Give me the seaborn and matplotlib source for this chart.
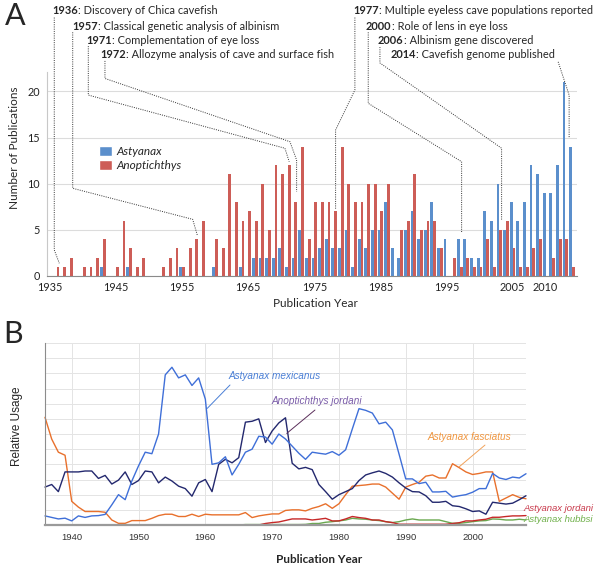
import matplotlib
matplotlib.use("Agg")
import matplotlib.pyplot as plt
import seaborn as sns
import pandas as pd
from matplotlib.patches import Patch

# ---- panel A: publications per year ----
pub_years = list(range(1936, 2015))
astyanax_pubs = [0, 0, 0, 0, 0, 0, 0, 1, 0, 0,
                 0, 1, 0, 0, 0, 0, 0, 0, 0, 1,
                 0, 0, 0, 0, 1, 0, 0, 0, 1, 0,
                 2, 2, 2, 2, 3, 1, 2, 5, 2, 2,
                 3, 4, 3, 3, 5, 1, 4, 3, 5, 5,
                 8, 3, 2, 5, 7, 4, 5, 8, 3, 4,
                 0, 4, 4, 2, 2, 7, 6, 10, 5, 8,
                 6, 8, 12, 11, 9, 9, 12, 21, 14]
anoptichthys_pubs = [1, 1, 2, 0, 1, 1, 2, 4, 0, 1,
                     6, 3, 1, 2, 0, 0, 1, 2, 3, 1,
                     3, 4, 6, 0, 4, 3, 11, 8, 6, 7,
                     6, 10, 5, 12, 11, 12, 8, 14, 4, 8,
                     8, 8, 7, 14, 10, 8, 8, 10, 10, 7,
                     10, 0, 5, 6, 11, 5, 6, 6, 3, 0,
                     2, 1, 2, 1, 1, 4, 1, 5, 6, 3,
                     1, 1, 3, 4, 0, 2, 4, 4, 1]
genus_names = ["Astyanax", "Anoptichthys"]
year_ticks_a = [1935, 1945, 1955, 1965, 1975, 1985, 1995, 2005, 2010]

milestones = [("1936", ": Discovery of Chica cavefish"),
              ("1957", ": Classical genetic analysis of albinism"),
              ("1971", ": Complementation of eye loss"),
              ("1972", ": Allozyme analysis of cave and surface fish"),
              ("1977", ": Multiple eyeless cave populations reported"),
              ("2000", ": Role of lens in eye loss"),
              ("2006", ": Albinism gene discovered"),
              ("2014", ": Cavefish genome published")]

# ---- panel B: relative usage (ngram style) ----
ngram_years = list(range(1936, 2009))
a_mexicanus = [0.6, 0.5, 0.4, 0.45, 0.27, 0.6, 0.5, 0.6, 0.62, 0.7,
               1.33, 2.0, 1.67, 2.9, 3.9, 4.8, 4.7, 6.0, 9.9, 10.4,
               9.7, 9.9, 9.2, 9.7, 8.3, 4.0, 4.1, 4.5, 3.3, 4.0,
               4.8, 5.0, 5.85, 5.8, 5.33, 6.0, 5.67, 5.2, 4.73, 4.33,
               4.8, 4.73, 4.67, 4.84, 4.6, 4.96, 6.33, 7.67, 7.56, 7.38,
               6.67, 6.78, 6.27, 4.67, 3.04, 3.04, 2.73, 2.82, 2.18, 2.18,
               2.22, 1.84, 1.93, 2.0, 2.16, 2.4, 2.4, 3.4, 3.1, 3.0,
               3.16, 3.1, 3.38]
an_jordani = [2.5, 2.67, 2.2, 3.5, 3.5, 3.5, 3.56, 3.56, 3.07, 3.27,
              2.7, 2.96, 3.5, 2.67, 2.93, 3.56, 3.5, 2.78, 3.16, 2.9,
              2.56, 2.4, 1.9, 2.78, 3.0, 2.2, 4.0, 4.33, 4.1, 4.44,
              6.78, 6.84, 7.0, 5.44, 6.2, 6.73, 7.07, 4.07, 3.7, 3.8,
              3.65, 2.67, 2.2, 1.7, 2.0, 2.2, 2.4, 2.93, 3.3, 3.44,
              3.56, 3.4, 3.16, 2.78, 2.44, 2.2, 2.18, 1.93, 1.5, 1.5,
              1.56, 1.27, 1.22, 1.07, 0.89, 0.93, 0.71, 1.5, 1.44, 1.38,
              1.44, 1.67, 1.93]
a_fasciatus = [7.1, 5.67, 4.8, 4.6, 1.56, 1.18, 0.89, 0.89, 0.89, 0.84,
               0.33, 0.11, 0.11, 0.29, 0.29, 0.29, 0.44, 0.62, 0.71, 0.71,
               0.56, 0.56, 0.71, 0.56, 0.71, 0.67, 0.67, 0.67, 0.67, 0.67,
               0.82, 0.49, 0.6, 0.67, 0.73, 0.73, 0.96, 1.0, 1.0, 0.93,
               1.1, 1.22, 1.4, 1.1, 1.4, 2.0, 2.56, 2.6, 2.64, 2.7,
               2.7, 2.5, 2.1, 1.7, 2.5, 2.67, 2.82, 3.22, 3.3, 3.1,
               3.1, 4.04, 3.78, 3.5, 3.33, 3.4, 3.5, 3.5, 1.56, 1.78,
               2.0, 1.82, 1.73]
a_jordani = [0, 0, 0, 0, 0, 0, 0, 0, 0, 0,
             0, 0, 0, 0, 0, 0, 0, 0, 0, 0,
             0, 0, 0, 0, 0, 0, 0, 0, 0, 0,
             0, 0, 0, 0.1, 0.16, 0.2, 0.3, 0.4, 0.4, 0.4,
             0.33, 0.38, 0.44, 0.27, 0.27, 0.4, 0.56, 0.49, 0.44, 0.33,
             0.33, 0.22, 0.16, 0.05, 0.05, 0.05, 0.05, 0.05, 0.05, 0.05,
             0.05, 0.1, 0.15, 0.27, 0.27, 0.33, 0.38, 0.51, 0.51, 0.56,
             0.6, 0.6, 0.62]
a_hubbsi = [0, 0, 0, 0, 0, 0, 0, 0, 0, 0,
            0, 0, 0, 0, 0, 0, 0, 0, 0, 0,
            0, 0, 0, 0, 0, 0, 0, 0, 0, 0,
            0.03, 0.03, 0.03, 0.03, 0.03, 0.03, 0.03, 0.03, 0.03, 0.04,
            0.1, 0.1, 0.18, 0.22, 0.27, 0.33, 0.44, 0.4, 0.38, 0.33,
            0.29, 0.22, 0.16, 0.22, 0.33, 0.4, 0.33, 0.33, 0.33, 0.33,
            0.22, 0.11, 0.11, 0.16, 0.22, 0.27, 0.29, 0.4, 0.38, 0.33,
            0.33, 0.38, 0.33]
year_ticks_b = [1940, 1950, 1960, 1970, 1980, 1990, 2000]

sns.set_style("white")
plt.rcParams['font.family'] = ['Lato', 'DejaVu Sans']

fig = plt.figure(figsize=(6, 5.64), dpi=100)
W, H = 600, 564

# ============ A ============
axA = fig.add_axes([47 / W, (H - 276) / H, 530 / W, 204 / H])
col_blue, col_red = "#5b8fcc", "#cd5d57"

df_a = pd.DataFrame({
    "year": pub_years * 2,
    "count": astyanax_pubs + anoptichthys_pubs,
    "genus": [genus_names[0]] * len(pub_years) + [genus_names[1]] * len(pub_years),
})
sns.barplot(data=df_a, x="year", y="count", hue="genus", hue_order=genus_names,
            native_scale=True, width=0.85, palette=[col_blue, col_red],
            saturation=1, linewidth=0, errorbar=None, legend=False, ax=axA)

axA.set_xlim(1934.55, 2014.75)
axA.set_ylim(0, 22.1)
axA.set_yticks([0, 5, 10, 15, 20])
axA.set_xticks(year_ticks_a)
axA.set_xticklabels([str(y) for y in year_ticks_a])
axA.yaxis.grid(True, color="#dcdcdc", lw=0.8)
axA.set_axisbelow(True)
axA.tick_params(labelsize=7.8, length=0, colors="#222")
axA.tick_params(axis="x", pad=4)
axA.tick_params(axis="y", pad=5)
for s in ["top", "right"]:
    axA.spines[s].set_visible(False)
axA.spines["left"].set_color("#c8c8c8")
axA.spines["bottom"].set_color("#8a8a8a")
axA.set_xlabel("Publication Year", fontsize=8.5)
axA.set_ylabel("Number of Publications", fontsize=8.5)
axA.xaxis.set_label_coords(0.506, -0.11)
axA.yaxis.set_label_coords(-0.05, 0.627)

handles = [Patch(facecolor=col_blue, label=genus_names[0]),
           Patch(facecolor=col_red, label=genus_names[1])]
leg = axA.legend(handles=handles, loc="upper left", bbox_to_anchor=(0.09, 0.66),
                 frameon=False, fontsize=8.5, handlelength=1.1, handleheight=0.9,
                 handletextpad=0.35, labelspacing=0.25, borderaxespad=0)
for t in leg.get_texts():
    t.set_fontstyle("italic")

# milestone texts (pixel positions of the reference layout)
text_pos = [(52, 11), (72, 26), (86, 40), (100, 55),
            (353, 11), (366, 26), (378, 40), (391, 55)]
for (yr, desc), (px, py) in zip(milestones, text_pos):
    t1 = fig.text(px / W, 1 - py / H, yr, fontweight="bold", fontsize=7.9,
                  va="center", ha="left")
    axA.annotate(desc, xy=(1, 0.5), xycoords=t1, va="center", ha="left",
                 fontsize=7.9, annotation_clip=False)

# dotted leader lines (waypoints in data coordinates of panel A)
leaders = [
    ([1935.65, 1935.65, 1936.41], [28.0, 2.82, 1.38]),
    ([1938.44, 1938.44, 1956.59, 1957.29], [26.4, 9.5, 6.14, 4.44]),
    ([1940.80, 1940.80, 1970.55, 1971.20], [24.9, 19.6, 13.84, 12.38]),
    ([1943.32, 1943.32, 1971.31, 1972.32, 1972.32], [23.3, 21.4, 14.55, 12.57, 9.13]),
    ([1981.14, 1981.14, 1978.22, 1978.22], [28.0, 20.15, 15.82, 7.26]),
    ([1983.16, 1983.16, 1997.29, 1997.29], [26.4, 18.71, 12.38, 4.63]),
    ([1984.93, 1984.93, 2003.34, 2003.34], [24.8, 23.08, 13.84, 6.07]),
    ([2011.9, 2013.56, 2013.56], [23.2, 19.6, 14.92]),
]
for xs, ys in leaders:
    axA.plot(xs, ys, ls=(0, (1, 1.3)), lw=0.7, color="#333333", clip_on=False)

fig.text(5 / W, 1 - 2 / H, "A", fontsize=22, va="top", ha="left")

# ============ B ============
axB = fig.add_axes([45 / W, (H - 525) / H, 481 / W, 182 / H])
terms = ["Astyanax hubbsi", "Astyanax jordani", "Astyanax fasciatus",
         "Anoptichthys jordani", "Astyanax mexicanus"]
series = [a_hubbsi, a_jordani, a_fasciatus, an_jordani, a_mexicanus]
line_cols = {"Astyanax mexicanus": "#3f6fd8", "Anoptichthys jordani": "#23286e",
             "Astyanax fasciatus": "#e8702c", "Astyanax jordani": "#c62828",
             "Astyanax hubbsi": "#6aa84f"}
df_b = pd.DataFrame({
    "year": ngram_years * len(terms),
    "usage": sum(series, []),
    "term": sum([[t] * len(ngram_years) for t in terms], []),
})
sns.lineplot(data=df_b, x="year", y="usage", hue="term", hue_order=terms,
             palette=line_cols, linewidth=1.0, legend=False, ax=axB)
for ln in axB.lines:
    ln.set_clip_on(False)

axB.set_xlim(1936, 2008)
axB.set_ylim(0, 12)
axB.set_yticks(range(0, 13))
axB.set_yticklabels([])
axB.set_xticks(year_ticks_b)
axB.grid(True, color="#e4e4e4", lw=0.7)
axB.set_axisbelow(True)
axB.tick_params(axis="y", length=3, direction="out", color="#aaaaaa", width=0.6)
axB.tick_params(axis="x", length=0, labelsize=6.8, labelcolor="#333333", pad=6)
for lab in axB.get_xticklabels():
    lab.set_family(["Liberation Sans", "DejaVu Sans"])
for s in ["top", "right"]:
    axB.spines[s].set_visible(False)
axB.spines["left"].set_color("#8c8c8c")
axB.spines["left"].set_linewidth(0.8)
axB.spines["bottom"].set_color("#9a9a9a")
axB.spines["bottom"].set_linewidth(1.6)
axB.set_xlabel("Publication Year", fontsize=8.5, fontweight="bold")
axB.set_ylabel("Relative Usage", fontsize=8.5,
               family=["Liberation Sans", "DejaVu Sans"])
axB.xaxis.set_label_coords(0.57, -0.16)
axB.yaxis.set_label_coords(-0.045, 0.54)

lab_font = dict(fontstyle="italic", va="center", ha="left",
                family=["Liberation Sans", "DejaVu Sans"], clip_on=False)
axB.text(1963.4, 9.82, "Astyanax mexicanus", color="#4a7fd6", fontsize=7.2, **lab_font)
axB.text(1969.9, 8.17, "Anoptichthys jordani", color="#7a5ca8", fontsize=7.2, **lab_font)
axB.text(1993.3, 5.82, "Astyanax fasciatus", color="#f0963f", fontsize=7.2, **lab_font)
axB.text(2007.6, 1.1, "Astyanax jordani", color="#c8384a", fontsize=6.8, **lab_font)
axB.text(2007.6, 0.33, "Astyanax hubbsi", color="#6fb04a", fontsize=6.8, **lab_font)
axB.plot([1963.69, 1960.29], [9.23, 7.69], color="#4a7fd6", lw=0.7)
axB.plot([1976.41, 1972.18], [7.58, 6.04], color="#5a2e5a", lw=0.7)
axB.plot([2001.86, 1998.01], [5.27, 3.84], color="#f2a25a", lw=0.7)

fig.text(3 / W, 1 - 320 / H, "B", fontsize=22, va="top", ha="left")

fig.savefig("out.png", dpi=100)
